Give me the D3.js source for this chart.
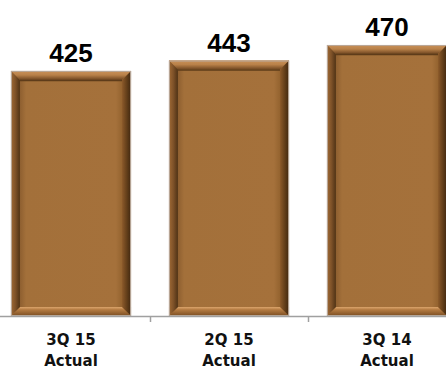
<!DOCTYPE html>
<html><head><meta charset="utf-8">
<script src="https://cdn.jsdelivr.net/npm/d3@7"></script>
<style>html,body{margin:0;padding:0;background:#fff;}svg{display:block;}</style>
</head><body>
<svg id="c" width="446" height="372"></svg>
<script>
const categories = ["3Q 15", "2Q 15", "3Q 14"];
const subLabels = ["Actual", "Actual", "Actual"];
const values = [425, 443, 470];

const W = 446, H = 372, base = 316;
const svg = d3.select("#c");
const x = d3.scaleBand().domain(categories).range([-8, 466]).paddingInner(0.24).paddingOuter(0.12);
const y = d3.scaleLinear().domain([0, 548]).range([base, 0]);

const defs = svg.append("defs");
function grad(id, x1, y1, x2, y2, stops) {
  const g = defs.append("linearGradient").attr("id", id)
    .attr("x1", x1).attr("y1", y1).attr("x2", x2).attr("y2", y2);
  stops.forEach(s => g.append("stop").attr("offset", s[0]).attr("stop-color", s[1]));
}
grad("gTop", 0, 0, 0, 1, [[0, "#c99159"], [0.45, "#b98149"], [1, "#6e4520"]]);
grad("gBot", 0, 0, 0, 1, [[0, "#dba56c"], [0.3, "#b47b42"], [1, "#7a4d22"]]);
grad("gLeft", 0, 0, 1, 0, [[0, "#a06a35"], [0.5, "#7d5128"], [1, "#4f3215"]]);
grad("gRight", 0, 0, 1, 0, [[0, "#8c5a2a"], [0.6, "#5e3b18"], [1, "#3f2710"]]);
grad("gIn", 0, 0, 1, 0, [[0, "#8e5f30"], [0.06, "#a3703a"], [0.94, "#a5713b"], [1, "#94632f"]]);

const bw = x.bandwidth(), bv = 9;
const bars = svg.selectAll("g.bar").data(values).join("g").attr("class", "bar");
bars.each(function(v, i) {
  const g = d3.select(this);
  const x0 = x(categories[i]), x1 = x0 + bw, y0 = y(v), y1 = base;
  g.append("rect").attr("x", x0).attr("y", y0).attr("width", bw).attr("height", y1 - y0).attr("fill", "#a36f3a");
  const poly = (pts, fill) => g.append("polygon").attr("points", pts.map(p => p.join(",")).join(" ")).attr("fill", fill);
  poly([[x0, y0], [x1, y0], [x1 - bv, y0 + bv], [x0 + bv, y0 + bv]], "url(#gTop)");
  poly([[x0 + bv, y1 - bv], [x1 - bv, y1 - bv], [x1, y1], [x0, y1]], "url(#gBot)");
  poly([[x0, y0], [x0 + bv, y0 + bv], [x0 + bv, y1 - bv], [x0, y1]], "url(#gLeft)");
  poly([[x1, y0], [x1, y1], [x1 - bv, y1 - bv], [x1 - bv, y0 + bv]], "url(#gRight)");
  g.append("rect").attr("x", x0 + bv).attr("y", y0 + bv).attr("width", bw - 2 * bv).attr("height", y1 - y0 - 2 * bv).attr("fill", "url(#gIn)");
  g.append("line").attr("x1", x0 + bv).attr("x2", x1 - bv).attr("y1", y0 + bv + 0.5).attr("y2", y0 + bv + 0.5).attr("stroke", "#5e3c1a").attr("stroke-width", 1.5);
  g.append("rect").attr("x", x0 + 0.5).attr("y", y0 + 0.5).attr("width", bw - 1).attr("height", y1 - y0 - 1)
    .attr("fill", "none").attr("stroke", "#b9a89a").attr("stroke-width", 1);
});

// value labels
svg.selectAll("text.val").data(values).join("text").attr("class", "val")
  .attr("x", (d, i) => x(categories[i]) + bw / 2).attr("y", d => y(d) - 9)
  .attr("text-anchor", "middle").attr("font-family", "Liberation Sans, Arial, sans-serif")
  .attr("font-weight", "bold").attr("font-size", 26).attr("fill", "#000").text(d => d);

// axis line and ticks at category boundaries
svg.append("line").attr("x1", 0).attr("x2", W).attr("y1", base + 0.5).attr("y2", base + 0.5)
  .attr("stroke", "#a0a0a0").attr("stroke-width", 1.5);
const step = x.step();
categories.slice(1).forEach(c => {
  const tx = Math.round(x(c) - step * x.paddingInner() / 2) + 0.5;
  svg.append("line").attr("x1", tx).attr("x2", tx).attr("y1", base).attr("y2", base + 6)
    .attr("stroke", "#a0a0a0").attr("stroke-width", 1.5);
});

// category labels
const lab = svg.selectAll("text.cat").data(categories).join("text").attr("class", "cat")
  .attr("text-anchor", "middle").attr("font-family", "DejaVu Sans, sans-serif")
  .attr("font-weight", "bold").attr("font-size", 15).attr("fill", "#111");
lab.append("tspan").attr("x", (d) => x(d) + bw / 2).attr("y", 345).text(d => d);
lab.append("tspan").attr("x", (d) => x(d) + bw / 2).attr("y", 366).text((d, i) => subLabels[i]);
</script>
</body></html>
